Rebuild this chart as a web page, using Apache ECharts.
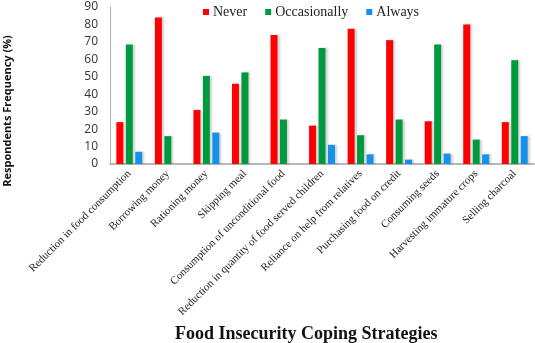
<!DOCTYPE html>
<html><head><meta charset="utf-8">
<script src="https://cdn.jsdelivr.net/npm/echarts@6/dist/echarts.min.js"></script>
<style>html,body{margin:0;padding:0;background:#fff}#c{width:535px;height:343px}</style>
</head><body><div id="c"></div>
<script>
const categories = ["Reduction in food consumption","Borrowing money","Rationing money","Skipping meal","Consumption of unconditional food","Reduction in quantity of food served children","Reliance on help from relatives","Purchasing food on credit","Consuming seeds","Harvesting immature crops","Selling charcoal"];
const never = [24, 84, 31, 46, 74, 22, 77.5, 71, 24.5, 80, 24];
const occasionally = [68.5, 16, 50.5, 52.5, 25.5, 66.5, 16.5, 25.5, 68.5, 14, 59.5];
const always = [7, 0, 18, 0, 0, 11, 5.5, 2.5, 6, 5.5, 16];
const yTicks = [0, 90, 10];

const chart = echarts.init(document.getElementById('c'));
const shadow = {shadowColor:'rgba(0,0,0,0.18)', shadowBlur:2, shadowOffsetX:2, shadowOffsetY:0};
function s(name, data, color){
  return {name, type:'bar', data, barWidth:7, barGap:'35%',
    itemStyle:Object.assign({color}, shadow)};
}
chart.setOption({
  animation:false,
  color:['#ff0000','#009a3e','#1591ea'],
  legend:{top:0, left:198, itemWidth:6, itemHeight:6, itemGap:18, icon:'rect',
    textStyle:{fontFamily:'Liberation Serif', fontSize:14, color:'#222', padding:[0,0,0,-1]},
    data:['Never','Occasionally','Always']},
  title:{text:'Food Insecurity Coping Strategies', left:170, top:320,
    textStyle:{fontFamily:'Liberation Serif', fontSize:18, fontWeight:'bold', color:'#111'}},
  grid:{left:110, right:1, top:7, bottom:179, containLabel:false},
  xAxis:{type:'category', data:categories,
    axisLine:{lineStyle:{color:'#a0a0a0', width:1.5}},
    axisTick:{show:false},
    axisLabel:{rotate:45, interval:0, fontFamily:'Liberation Serif', fontSize:11, color:'#222', margin:8}},
  yAxis:{type:'value', min:yTicks[0], max:yTicks[1], interval:yTicks[2],
    splitLine:{show:false},
    axisLine:{show:true, lineStyle:{color:'#b0b0b0'}},
    axisTick:{show:false},
    axisLabel:{fontFamily:'Open Sans', fontSize:12, color:'#333', margin:12}},
  graphic:[{type:'text', x:8, y:111, rotation:Math.PI/2,
    style:{text:'Respondents Frequency (%)', fontFamily:'Open Sans', fontWeight:'bold', fontSize:11,
      fill:'#111', align:'center', verticalAlign:'middle'}}],
  series:[s('Never', never, '#ff0000'), s('Occasionally', occasionally, '#009a3e'), s('Always', always, '#1591ea')]
});
</script></body></html>
